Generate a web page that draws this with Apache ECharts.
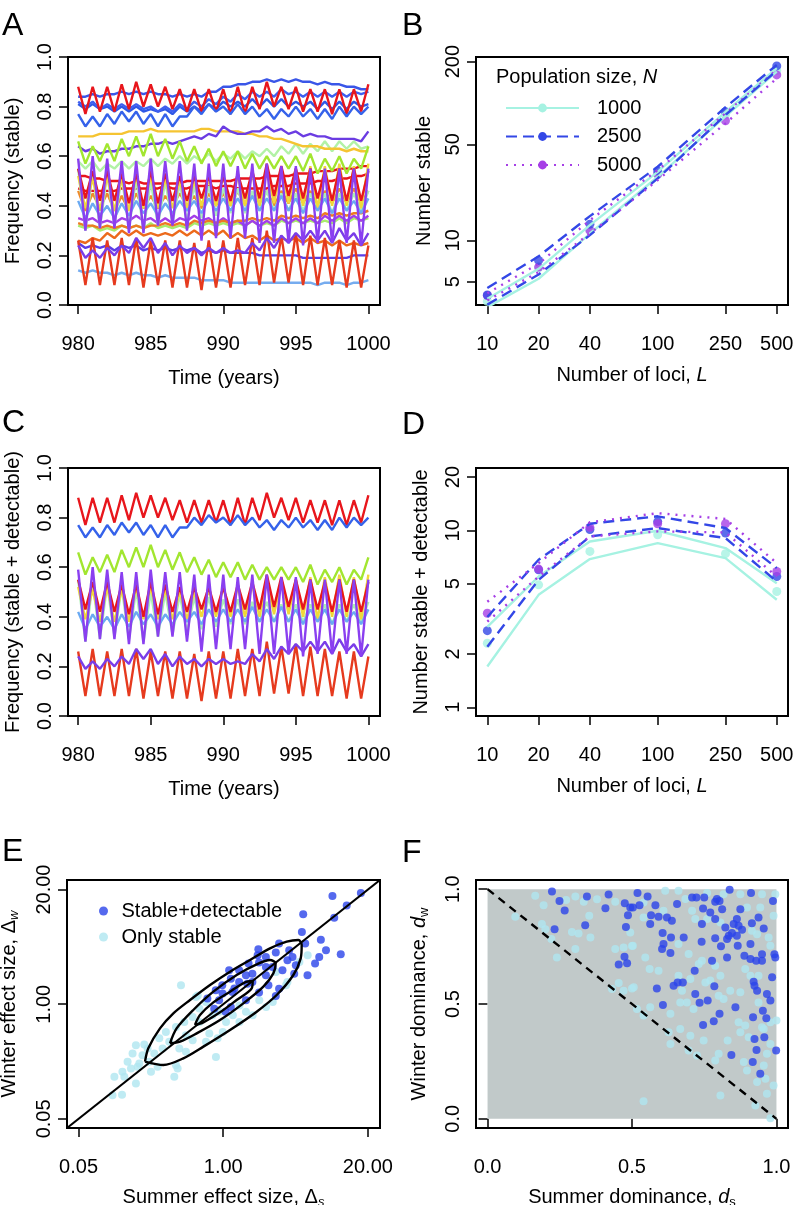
<!DOCTYPE html>
<html>
<head>
<meta charset="utf-8">
<title>Stable loci panels</title>
<script src="https://cdn.jsdelivr.net/npm/echarts@6.0.0/dist/echarts.min.js"></script>
<style>
  html, body { margin: 0; padding: 0; background: #fff; }
  #chart { width: 796px; height: 1205px; }
</style>
</head>
<body>
<div id="chart"></div>
<script>
// ---- data ----
// panels A and C: two samples a year (summer peak, winter trough)
const years = [980, 980.5, 981, 981.5, 982, 982.5, 983, 983.5, 984, 984.5,
  985, 985.5, 986, 986.5, 987, 987.5, 988, 988.5, 989, 989.5,
  990, 990.5, 991, 991.5, 992, 992.5, 993, 993.5, 994, 994.5,
  995, 995.5, 996, 996.5, 997, 997.5, 998, 998.5, 999, 999.5, 1000]

// stable + detectable loci (panel C, also drawn in A)
const cRedTop = [.88,.77, .88,.78, .88,.78, .89,.79, .90,.80, .89,.80, .88,.79, .87,.78, .87,.78, .87,.78,
  .87,.77, .88,.77, .88,.79, .90,.80, .88,.79, .88,.78, .87,.78, .87,.77, .87,.77, .87,.78, .89]
const cBlue = [.77,.72, .76,.72, .77,.73, .78,.74, .78,.73, .77,.72, .77,.72, .76,.76, .80,.77, .81,.78,
  .80,.77, .81,.77, .80,.76, .79,.75, .79,.76, .80,.76, .79,.75, .79,.75, .80,.76, .80,.77, .80]
const cLime = [.66,.57, .64,.58, .65,.58, .67,.60, .68,.60, .69,.60, .67,.59, .66,.58, .64,.57, .63,.56,
  .62,.56, .62,.55, .61,.55, .60,.55, .60,.55, .60,.54, .61,.53, .59,.54, .60,.53, .59,.55, .64]
const cPurpleBig = [.59,.30, .60,.31, .59,.31, .58,.29, .58,.29, .59,.32, .58,.32, .58,.30, .57,.26, .57,.27,
  .57,.27, .56,.27, .57,.25, .57,.25, .56,.25, .56,.24, .55,.25, .55,.25, .55,.25, .55,.24, .55]
const cRedMid = [.55,.43, .54,.42, .54,.42, .53,.41, .53,.40, .54,.41, .53,.42, .52,.42, .52,.43, .52,.42,
  .52,.42, .53,.43, .54,.43, .57,.44, .56,.44, .55,.43, .55,.43, .54,.42, .55,.42, .55,.42, .54]
const cYellow = [.52,.39, .51,.38, .52,.38, .51,.38, .52,.39, .52,.39, .51,.39, .50,.39, .50,.40, .51,.40,
  .52,.40, .52,.40, .53,.40, .54,.41, .55,.41, .55,.40, .56,.39, .56,.40, .57,.40, .56,.39, .57]
const cPaleGreen = [.55,.30, .54,.31, .53,.32, .52,.31, .51,.30, .50,.32, .50,.33, .49,.34, .48,.35, .48,.36,
  .47,.37, .47,.37, .46,.38, .46,.38, .45,.38, .45,.38, .45,.38, .45,.37, .45,.38, .45,.38, .46]
const cLightBlue = [.42,.35, .41,.36, .40,.35, .41,.36, .42,.37, .41,.36, .41,.37, .42,.38, .42,.37, .43,.38,
  .43,.38, .43,.38, .44,.38, .43,.38, .44,.38, .43,.37, .43,.38, .43,.37, .43,.38, .42,.37, .43]
const cPurpleLow = [.24,.19, .22,.19, .23,.20, .24,.21, .27,.23, .27,.21, .25,.20, .24,.21, .23,.20, .23,.21,
  .23,.21, .22,.21, .25,.22, .27,.23, .28,.25, .29,.26, .30,.26, .30,.25, .31,.26, .29,.24, .29]
const cRedLow = [.26,.08, .27,.08, .26,.08, .27,.08, .27,.07, .26,.08, .26,.07, .26,.07, .25,.06, .26,.07,
  .26,.07, .27,.08, .27,.08, .30,.09, .28,.09, .29,.08, .28,.08, .27,.08, .26,.07, .26,.07, .24]

// only-stable loci (extra lines in panel A)
const aBlue1 = [.84,.84, .85,.84, .85,.85, .86,.85, .86,.85, .86,.85, .85,.84, .85,.84, .85,.84, .86,.86,
  .88,.88, .89,.89, .90,.90, .91,.90, .91,.90, .91,.90, .90,.89, .90,.89, .89,.88, .88,.87, .87]
const aBlue2 = [.82,.80, .82,.79, .81,.79, .81,.79, .81,.79, .80,.78, .80,.78, .81,.79, .82,.80, .83,.81,
  .84,.82, .85,.83, .86,.84, .86,.84, .87,.85, .86,.84, .86,.84, .86,.84, .86,.84, .86,.85, .86]
const aBlue3 = [.81,.79, .81,.79, .80,.78, .80,.78, .80,.78, .79,.78, .79,.77, .80,.78, .80,.78, .81,.79,
  .82,.80, .82,.80, .83,.80, .83,.80, .83,.80, .82,.80, .82,.79, .82,.79, .82,.79, .82,.80, .81]
const aGold = [.68,.68, .68,.69, .69,.69, .69,.70, .70,.70, .71,.70, .70,.70, .70,.70, .70,.71, .71,.70,
  .70,.70, .70,.69, .69,.68, .68,.67, .67,.66, .65,.64, .64,.64, .63,.63, .63,.62, .63,.62, .62]
const aPurple1 = [.64,.62, .63,.61, .62,.62, .63,.63, .64,.64, .65,.65, .66,.65, .66,.67, .68,.67, .69,.68,
  .72,.70, .69,.69, .70,.70, .72,.70, .71,.69, .70,.68, .69,.68, .68,.67, .67,.67, .67,.66, .70]
const aPaleGreen = [.58,.55, .58,.54, .57,.55, .58,.55, .58,.56, .59,.56, .59,.57, .60,.57, .60,.58, .61,.58,
  .61,.59, .62,.59, .62,.60, .63,.60, .64,.61, .65,.61, .65,.62, .66,.62, .66,.63, .66,.63, .64]
const aRed1 = [.52,.52, .51,.51, .50,.50, .50,.49, .50,.49, .49,.49, .49,.49, .49,.50, .50,.50, .50,.50,
  .50,.50, .51,.51, .51,.51, .52,.52, .52,.52, .53,.53, .53,.54, .54,.54, .55,.55, .55,.56, .56]
const aRed2 = [.47,.46, .46,.46, .46,.46, .47,.47, .47,.47, .47,.47, .48,.47, .47,.47, .48,.48, .48,.47,
  .48,.48, .47,.47, .47,.47, .47,.48, .48,.48, .49,.49, .49,.50, .50,.50, .51,.51, .52,.52, .53]
const aOrange1 = [.46,.38, .45,.39, .45,.38, .44,.38, .45,.39, .44,.39, .44,.40, .45,.40, .44,.39, .45,.40,
  .45,.40, .46,.40, .45,.40, .46,.40, .46,.41, .47,.41, .46,.40, .46,.41, .47,.41, .47,.41, .46]
const aOrange2 = [.33,.32, .32,.31, .32,.31, .32,.31, .32,.31, .32,.32, .33,.32, .33,.32, .34,.33, .34,.33,
  .34,.33, .34,.34, .35,.34, .35,.34, .36,.35, .36,.35, .36,.35, .37,.36, .37,.36, .37,.37, .38]
const aOrange3 = [.26,.25, .27,.26, .29,.27, .30,.28, .30,.28, .29,.28, .29,.28, .30,.28, .30,.28, .30,.28,
  .30,.27, .29,.27, .28,.26, .28,.26, .27,.26, .27,.25, .27,.25, .26,.24, .26,.24, .25,.24, .25]
const aViolet = [.35,.34, .35,.33, .34,.33, .35,.34, .36,.34, .35,.33, .35,.33, .35,.34, .36,.34, .35,.33,
  .35,.33, .34,.32, .34,.32, .34,.32, .35,.33, .35,.33, .35,.33, .36,.34, .36,.34, .36,.34, .36]
const aGreen = [.32,.31, .32,.30, .31,.30, .32,.31, .32,.31, .33,.31, .32,.31, .32,.31, .33,.32, .33,.32,
  .33,.32, .33,.32, .34,.32, .33,.32, .34,.33, .34,.33, .34,.33, .34,.33, .35,.33, .35,.34, .35]
const aIndigo = [.25,.23, .24,.23, .24,.22, .24,.23, .24,.22, .23,.22, .23,.22, .23,.22, .23,.21, .22,.21,
  .22,.21, .21,.21, .21,.20, .20,.20, .20,.20, .20,.19, .19,.19, .19,.19, .19,.19, .20,.20, .20]
const aSkyLow = [.14,.13, .14,.13, .13,.12, .13,.12, .13,.12, .12,.11, .12,.11, .11,.11, .11,.10, .10,.10,
  .10,.09, .09,.09, .09,.09, .09,.09, .09,.09, .09,.09, .09,.08, .09,.09, .09,.08, .09,.09, .10]

// panels B and D: number of loci simulated, per population size (upper / lower line and points)
const loci = [10, 20, 40, 100, 250, 500]
const stable1000Hi = [3.75, 6.2, 12.9, 31.5, 86, 179]
const stable1000Lo = [3.26, 5.25, 11.2, 29, 80, 169]
const stable1000Pt = [3.6, 6.3, 11.8, 30, 82, 172]
const stable2500Hi = [4.5, 7.64, 15, 34.3, 93, 189]
const stable2500Lo = [3.4, 5.64, 10.9, 28.2, 81.7, 172]
const stable2500Pt = [4.0, 7.14, 13.1, 32, 86.3, 186]
const stable5000Hi = [4.12, 6.75, 14, 32.4, 84, 174]
const stable5000Lo = [3.65, 5.86, 11.2, 27.4, 71, 151]
const stable5000Pt = [3.96, 6.38, 11.8, 30.3, 74.2, 160]

const detect1000Hi = [2.85, 5.48, 8.65, 9.95, 7.94, 5.03]
const detect1000Lo = [1.70, 4.32, 6.88, 8.47, 6.97, 4.05]
const detect1000Pt = [2.30, 4.92, 7.6, 9.44, 7.38, 4.51]
const detect2500Hi = [3.24, 6.82, 10.9, 12.0, 10.3, 6.12]
const detect2500Lo = [2.2, 5.25, 9.24, 10.3, 9.04, 5.14]
const detect2500Pt = [2.71, 5.98, 10.1, 11.2, 9.66, 5.48]
const detect5000Hi = [3.95, 6.53, 11.1, 12.5, 11.6, 6.53]
const detect5000Lo = [3.05, 5.48, 9.24, 9.86, 9.73, 5.48]
const detect5000Pt = [3.4, 6.04, 10.4, 10.9, 10.9, 5.85]

// panel E: effect sizes (summer, winter)
const effectDetect = [[9.6,16.9],[17.3,18.3],[12.9,13.2],[9.96,9.6],[5.24,10.5],[5.1,6.6],[7.55,5.4],[8.4,4.1],
  [11.4,3.7],[7.3,3.44],[6.7,2.89],[5.46,4.88],[4.2,3.44],[3.18,4.88],[2.07,4.2],[2.42,3.44],[2.1,2.97],
  [2.97,3.86],[3.78,3.15],[4.35,2.22],[3.41,2.43],[2.42,2.13],[1.83,2.22],[1.39,2.43],[1.13,2.43],[1.65,1.71],
  [2.55,1.64],[3.18,1.5],[2.97,1.24],[2.1,1.36],[1.6,1.11],[1.21,1.38],[0.98,1.64],[0.857,1.44],[0.72,1.16],
  [0.918,1.11],[1.17,0.93],[1.05,0.82],[0.83,0.89],[1.69,2.89],[2.42,2.65],[3.92,4.1],[4.5,2.77],[5.73,2.13],
  [1.83,1.79],[1.39,1.79],[1.17,1.95],[2.04,3.6],[2.78,2.65],[1.6,2.13],[0.986,1.32],[1.26,1.51]]
const effectStable = [[0.417,1.64],[0.569,1.21],[0.86,0.252],[0.89,0.41],[2.79,1.06],[3.78,1.79],[5.75,3.59],
  [0.164,0.343],[0.188,0.264],[0.153,0.275],[0.17,0.195],[0.216,0.222],[0.257,0.195],[0.224,0.171],[0.138,0.222],
  [0.124,0.171],[0.105,0.15],[0.129,0.15],[0.101,0.0927],[0.123,0.094],[0.164,0.126],[0.376,0.203],[0.389,0.186],
  [0.363,0.15],[0.285,0.314],[0.327,0.374],[0.266,0.41],[0.305,0.485],[0.376,0.553],[0.447,0.63],[0.531,0.718],
  [0.61,0.893],[0.7,1.06],[0.8,0.75],[0.61,0.63],[0.462,0.445],[0.403,0.314],[0.209,0.314],[0.24,0.275],
  [0.59,1.26],[0.75,0.465],[0.99,0.485],[0.531,0.39],[0.462,0.288],[0.7,0.374],[1.4,0.97],[2.43,0.93],
  [2.98,2.32],[4.84,3.02],[3.67,1.64],[1.84,0.75],[1.4,0.63],[1.06,0.63],[0.92,0.82],[1.22,0.75],[1.6,0.82],
  [2.11,1.11],[0.195,0.348],[0.176,0.212],[0.148,0.186]]
// density contours
const contourOuter = [[0.198,0.223],[0.212,0.316],[0.27,0.532],[0.356,0.788],[0.503,1.116],[0.761,1.652],
  [1.151,2.341],[1.741,3.177],[2.635,4.31],[3.722,5.129],[4.738,5.357],[5.077,4.70],[4.974,3.318],[4.272,2.146],
  [3.025,1.272],[2.0,0.823],[1.151,0.51],[0.663,0.33],[0.438,0.243],[0.289,0.204],[0.198,0.223]]
const contourMid = [[0.332,0.36],[0.381,0.532],[0.538,0.86],[0.815,1.388],[1.321,2.146],[2.0,2.836],[2.635,3.177],
  [2.963,2.911],[2.824,2.241],[2.296,1.582],[1.517,1.023],[0.936,0.662],[0.577,0.467],[0.409,0.376],[0.332,0.36]]
const contourInner = [[0.557,0.581],[0.618,0.754],[0.815,1.05],[1.151,1.388],[1.57,1.772],[1.84,1.834],
  [1.803,1.514],[1.321,1.116],[0.936,0.809],[0.663,0.623],[0.557,0.581]]

// panel F: dominance (summer, winter)
const domDetect = [[0.223,0.99],[0.249,0.949],[0.267,0.907],[0.232,0.826],[0.344,0.968],[0.338,0.843],[0.419,0.977],
  [0.408,0.917],[0.475,0.939],[0.494,0.92],[0.486,0.887],[0.479,0.835],[0.474,0.706],[0.454,0.672],[0.483,0.677],
  [0.519,0.983],[0.554,0.968],[0.503,0.92],[0.526,0.93],[0.581,0.93],[0.566,0.887],[0.592,0.88],[0.563,0.848],
  [0.621,0.877],[0.638,0.862],[0.656,0.935],[0.606,0.809],[0.635,0.79],[0.679,0.79],[0.609,0.761],[0.604,0.739],
  [0.633,0.722],[0.708,0.964],[0.723,0.964],[0.75,0.964],[0.794,0.957],[0.803,0.949],[0.788,0.945],[0.838,0.997],
  [0.912,0.983],[0.988,0.949],[0.746,0.916],[0.771,0.899],[0.812,0.913],[0.875,0.913],[0.742,0.848],[0.788,0.87],
  [0.863,0.87],[0.852,0.848],[0.869,0.841],[0.823,0.833],[0.881,0.823],[0.915,0.852],[0.938,0.877],[0.956,0.829],
  [0.835,0.797],[0.846,0.809],[0.863,0.797],[0.829,0.783],[0.91,0.761],[0.741,0.771],[0.788,0.786],[0.808,0.751],
  [0.866,0.754],[0.889,0.71],[0.91,0.696],[0.93,0.688],[0.95,0.717],[0.95,0.688],[0.993,0.717],[0.996,0.703],
  [0.829,0.703],[0.777,0.688],[0.717,0.645],[0.644,0.58],[0.658,0.594],[0.676,0.594],[0.586,0.568],[0.719,0.544],
  [0.734,0.505],[0.762,0.515],[0.785,0.577],[0.607,0.496],[0.803,0.457],[0.783,0.425],[0.746,0.409],[0.858,0.486],
  [0.921,0.597],[0.924,0.58],[0.933,0.558],[0.967,0.544],[0.979,0.515],[0.985,0.616],[0.953,0.471],[0.965,0.438],
  [0.919,0.442],[0.924,0.348],[0.958,0.355],[0.931,0.3],[0.999,0.297],[0.844,0.278],[0.918,0.247],[0.944,0.196]]
const domStable = [[0.165,0.971],[0.194,0.93],[0.096,0.88],[0.188,0.848],[0.2,0.826],[0.221,0.783],[0.24,0.703],
  [0.272,0.953],[0.304,0.968],[0.333,0.945],[0.379,0.956],[0.352,0.884],[0.356,0.79],[0.292,0.814],[0.315,0.807],
  [0.304,0.739],[0.442,0.945],[0.442,0.739],[0.471,0.746],[0.5,0.753],[0.431,0.565],[0.454,0.591],[0.471,0.558],
  [0.5,0.568],[0.494,0.811],[0.615,0.993],[0.661,0.993],[0.76,0.983],[0.817,0.978],[0.875,0.978],[0.95,0.978],
  [0.996,0.978],[0.54,0.942],[0.685,0.957],[0.609,0.906],[0.54,0.877],[0.708,0.906],[0.719,0.87],[0.76,0.87],
  [0.806,0.855],[0.898,0.92],[0.944,0.92],[0.99,0.884],[0.915,0.819],[0.933,0.804],[0.973,0.79],[0.979,0.754],
  [0.503,0.754],[0.546,0.703],[0.561,0.652],[0.592,0.645],[0.661,0.761],[0.696,0.718],[0.731,0.674],[0.742,0.688],
  [0.788,0.667],[0.806,0.623],[0.771,0.602],[0.754,0.594],[0.702,0.609],[0.661,0.623],[0.506,0.573],[0.673,0.558],
  [0.69,0.507],[0.713,0.478],[0.667,0.507],[0.633,0.457],[0.563,0.486],[0.54,0.45],[0.517,0.478],[0.84,0.558],
  [0.875,0.551],[0.817,0.522],[0.8,0.536],[0.938,0.623],[0.938,0.507],[0.892,0.652],[0.91,0.623],[0.869,0.42],
  [0.892,0.406],[0.95,0.399],[0.979,0.42],[1.0,0.428],[0.904,0.355],[0.956,0.391],[0.875,0.377],[0.831,0.341],
  [0.8,0.283],[0.788,0.254],[0.748,0.341],[0.702,0.362],[0.667,0.391],[0.627,0.377],[0.633,0.326],[0.696,0.297],
  [0.725,0.276],[0.887,0.247],[0.898,0.21],[0.956,0.232],[0.967,0.283],[0.979,0.326],[0.962,0.174],[0.933,0.16],
  [0.99,0.145],[0.967,0.109],[0.806,0.102],[0.927,0.058],[0.979,0.003],[0.54,0.076]]

// tick labels
const yearTicks = [980, 985, 990, 995, 1000]
const freqTicks = [0, 0.2, 0.4, 0.6, 0.8, 1]
const stableTicks = [5, 10, 50, 200]
const detectTicks = [1, 2, 5, 10, 20]
const effectTicks = [0.05, 1, 20]
const domTicks = [0, 0.5, 1]

// ---- styling ----
const FONT = '"Liberation Sans", Arial, Helvetica, sans-serif'
const FS = 20
const txt = { color: '#000', fontFamily: FONT, fontSize: FS, fontWeight: 'normal' }
const rich = {
  t: Object.assign({}, txt, { lineHeight: 24 }),
  i: Object.assign({}, txt, { fontStyle: 'italic', lineHeight: 24 }),
  si: { color: '#000', fontFamily: FONT, fontSize: 13, fontWeight: 'normal', fontStyle: 'italic', verticalAlign: 'bottom', lineHeight: 13 },
  sub: { color: '#000', fontFamily: FONT, fontSize: 13, fontWeight: 'normal', verticalAlign: 'bottom', lineHeight: 13 }
}
const EMIN = 0.03936, EMAX = 25.7

function axis(dim, grid, cfg) {
  const isY = dim === 'y'
  return {
    gridIndex: grid,
    type: cfg.type || 'value',
    logBase: 10,
    min: cfg.min,
    max: cfg.max,
    name: cfg.name,
    nameLocation: 'middle',
    nameGap: cfg.gap,
    nameRotate: isY ? 90 : 0,
    nameTextStyle: Object.assign({}, txt, { rich: rich }),
    axisLine: { show: false },
    axisTick: { show: true, customValues: cfg.ticks, length: 9, lineStyle: { color: '#000', width: 1.5 } },
    axisLabel: Object.assign({}, txt, {
      customValues: cfg.ticks, formatter: cfg.fmt, margin: isY ? 13 : 29,
      rotate: isY ? 90 : 0, hideOverlap: false
    }),
    splitLine: { show: false },
    splitArea: { show: false }
  }
}
const fix1 = v => Number(v).toFixed(1)
const fix2 = v => Number(v).toFixed(2)
const plain = v => String(Math.round(v))

function tsLine(grid, arr, color) {
  return {
    type: 'line', xAxisIndex: grid, yAxisIndex: grid,
    data: years.map((t, i) => [t, arr[i]]),
    symbol: 'none', silent: true,
    lineStyle: { color: color, width: 2.4 }, itemStyle: { color: color }
  }
}
function lociLine(grid, name, vals, color, dash) {
  return {
    type: 'line', name: name, xAxisIndex: grid, yAxisIndex: grid,
    data: loci.map((L, i) => [L, vals[i]]),
    symbol: 'circle', showSymbol: false, silent: true,
    lineStyle: { color: color, width: 2.4, type: dash }, itemStyle: { color: color }
  }
}
function lociPoints(grid, name, vals, color) {
  return {
    type: 'scatter', name: name, xAxisIndex: grid, yAxisIndex: grid,
    data: loci.map((L, i) => [L, vals[i]]),
    symbol: 'circle', symbolSize: 9, silent: true, itemStyle: { color: color }
  }
}
function contour(arr) {
  return {
    type: 'line', xAxisIndex: 4, yAxisIndex: 4, data: arr, symbol: 'none', smooth: 0.3,
    silent: true, z: 6, lineStyle: { color: '#000', width: 2.4 }
  }
}

const cLines = [
  [cPaleGreen, '#aaf0b6'], [cYellow, '#f0d83a'], [cRedMid, '#e8161c'], [cLightBlue, '#6aaaf2'],
  [cLime, '#a2e630'], [cRedLow, '#e63a1e'], [cPurpleLow, '#7a3de8'], [cRedTop, '#e8161c'],
  [cBlue, '#3562ea'], [cPurpleBig, '#8a3ff0']
]
const aLines = [
  [aOrange1, '#f08a2a'], [aGreen, '#a8ec6c'], [aViolet, '#a43ee8'], [aOrange2, '#ee7a22'],
  [aOrange3, '#ec6a1c'], [aIndigo, '#5b3de6'], [aSkyLow, '#76acef'], [aPaleGreen, '#b2f2a6'],
  [aGold, '#f5c431'], [aPurple1, '#6b3ce2'], [aRed1, '#e8141c'], [aRed2, '#e8141c'],
  [aBlue3, '#2f58e6'], [aBlue2, '#3f5ff0'], [aBlue1, '#3a56e8']
]

const C1000 = '#a6f2e2', C2500 = '#3347e6', C5000 = '#a63fe6'
const DASH = [11, 6], DOT = [2, 6]

const series = []
aLines.forEach(l => series.push(tsLine(0, l[0], l[1])))
cLines.forEach(l => series.push(tsLine(0, l[0], l[1])))
cLines.forEach(l => series.push(tsLine(2, l[0], l[1])))

series.push(lociLine(1, '1000', stable1000Hi, C1000, 'solid'))
series.push(lociLine(1, '2500', stable2500Hi, C2500, DASH))
series.push(lociLine(1, '5000', stable5000Hi, C5000, DOT))
series.push(lociLine(1, '1000', stable1000Lo, C1000, 'solid'))
series.push(lociLine(1, '2500', stable2500Lo, C2500, DASH))
series.push(lociLine(1, '5000', stable5000Lo, C5000, DOT))
series.push(lociPoints(1, '1000', stable1000Pt, C1000))
series.push(lociPoints(1, '5000', stable5000Pt, C5000))
series.push(lociPoints(1, '2500', stable2500Pt, C2500))

series.push(lociLine(3, '1000', detect1000Hi, C1000, 'solid'))
series.push(lociLine(3, '1000', detect1000Lo, C1000, 'solid'))
series.push(lociLine(3, '2500', detect2500Hi, C2500, DASH))
series.push(lociLine(3, '2500', detect2500Lo, C2500, DASH))
series.push(lociLine(3, '5000', detect5000Hi, C5000, DOT))
series.push(lociLine(3, '5000', detect5000Lo, C5000, DOT))
series.push(lociPoints(3, '1000', detect1000Pt, C1000))
series.push(lociPoints(3, '2500', detect2500Pt, C2500))
series.push(lociPoints(3, '5000', detect5000Pt, C5000))

// panel E
series.push({ type: 'scatter', name: 'Only stable', xAxisIndex: 4, yAxisIndex: 4, data: effectStable,
  symbolSize: 8, silent: true, itemStyle: { color: '#afe6f0' }, z: 3 })
series.push({ type: 'scatter', name: 'Stable+detectable', xAxisIndex: 4, yAxisIndex: 4, data: effectDetect,
  symbolSize: 8, silent: true, itemStyle: { color: '#2b43ea' }, z: 4 })
series.push(contour(contourOuter), contour(contourMid), contour(contourInner))
series.push({ type: 'line', xAxisIndex: 4, yAxisIndex: 4, data: [[EMIN, EMIN], [EMAX, EMAX]], symbol: 'none',
  silent: true, z: 6, lineStyle: { color: '#000', width: 2.2 } })

// panel F
series.push({ type: 'line', xAxisIndex: 5, yAxisIndex: 5, data: [], symbol: 'none', silent: true, z: 1,
  markArea: { silent: true, itemStyle: { color: '#c1c9c9' }, data: [[{ coord: [0, 0] }, { coord: [1, 1] }]] } })
series.push({ type: 'scatter', xAxisIndex: 5, yAxisIndex: 5, data: domStable, symbolSize: 8, silent: true,
  itemStyle: { color: '#afe6f0' }, z: 3 })
series.push({ type: 'scatter', xAxisIndex: 5, yAxisIndex: 5, data: domDetect, symbolSize: 8, silent: true,
  itemStyle: { color: '#2b43ea' }, z: 4 })
series.push({ type: 'line', xAxisIndex: 5, yAxisIndex: 5, data: [[0, 1], [1, 0]], symbol: 'none', silent: true,
  z: 6, lineStyle: { color: '#000', width: 2.4, type: [8, 6] } })

const gridBase = { show: true, borderColor: '#000', borderWidth: 2, backgroundColor: 'transparent',
  containLabel: false, outerBoundsMode: 'none' }
const grid = [
  { left: 68, top: 57, width: 312, height: 248 },
  { left: 476, top: 57, width: 312, height: 248 },
  { left: 68, top: 468, width: 312, height: 248 },
  { left: 476, top: 468, width: 312, height: 248 },
  { left: 67, top: 880, width: 313, height: 248 },
  { left: 476, top: 880, width: 312, height: 248 }
].map(g => Object.assign({}, gridBase, g))

const xAxis = [
  axis('x', 0, { min: 979.3, max: 1000.8, ticks: yearTicks, fmt: plain, name: 'Time (years)', gap: 63 }),
  axis('x', 1, { type: 'log', min: 8.58, max: 582, ticks: loci, fmt: plain, name: '{t|Number of loci, }{i|L}', gap: 58 }),
  axis('x', 2, { min: 979.3, max: 1000.8, ticks: yearTicks, fmt: plain, name: 'Time (years)', gap: 63 }),
  axis('x', 3, { type: 'log', min: 8.58, max: 582, ticks: loci, fmt: plain, name: '{t|Number of loci, }{i|L}', gap: 58 }),
  axis('x', 4, { type: 'log', min: EMIN, max: EMAX, ticks: effectTicks, fmt: fix2, name: '{t|Summer effect size, Δ}{si|s}', gap: 57 }),
  axis('x', 5, { min: -0.04, max: 1.04, ticks: domTicks, fmt: fix1, name: '{t|Summer dominance, }{i|d}{sub|s}', gap: 57 })
]
const yAxis = [
  axis('y', 0, { min: 0, max: 1, ticks: freqTicks, fmt: fix1, name: 'Frequency (stable)', gap: 45 }),
  axis('y', 1, { type: 'log', min: 3.38, max: 216, ticks: stableTicks, fmt: plain, name: 'Number stable', gap: 42 }),
  axis('y', 2, { min: 0, max: 1, ticks: freqTicks, fmt: fix1, name: 'Frequency (stable + detectable)', gap: 45 }),
  axis('y', 3, { type: 'log', min: 0.893, max: 22.5, ticks: detectTicks, fmt: plain, name: 'Number stable + detectable', gap: 45 }),
  axis('y', 4, { type: 'log', min: EMIN, max: EMAX, ticks: effectTicks, fmt: fix2, name: '{t|Winter effect size, Δ}{si|w}', gap: 46 }),
  axis('y', 5, { min: -0.04, max: 1.04, ticks: domTicks, fmt: fix1, name: '{t|Winter dominance, }{i|d}{sub|w}', gap: 45 })
]

const letters = [['A', 2, 26], ['B', 402, 26], ['C', 2, 423], ['D', 402, 425], ['E', 2, 852], ['F', 402, 853]]

const option = {
  animation: false,
  backgroundColor: '#fff',
  textStyle: { fontFamily: FONT },
  title: [{
    text: '{t|Population size, }{i|N}', left: 496, top: 65, padding: 0,
    textStyle: { fontWeight: 'normal', rich: rich }
  }],
  legend: [{
    data: ['1000', '2500', '5000'], orient: 'vertical', left: 505, top: 98, padding: 0,
    itemWidth: 73, itemHeight: 11, itemGap: 8.5, selectedMode: false,
    textStyle: Object.assign({}, txt, { padding: [0, 0, 0, 13] })
  }, {
    data: ['Stable+detectable', 'Only stable'], orient: 'vertical', left: 99, top: 901, padding: 0,
    icon: 'circle', itemWidth: 26, itemHeight: 9, itemGap: 6, selectedMode: false,
    textStyle: Object.assign({}, txt)
  }],
  graphic: letters.map(l => ({
    type: 'text', x: l[1], y: l[2], silent: true,
    style: { text: l[0], font: '32px ' + FONT, fill: '#000', verticalAlign: 'middle' }
  })),
  grid: grid,
  xAxis: xAxis,
  yAxis: yAxis,
  series: series
}

const chart = echarts.init(document.getElementById('chart'), null, { renderer: 'canvas' })
chart.setOption(option)
</script>
</body>
</html>
